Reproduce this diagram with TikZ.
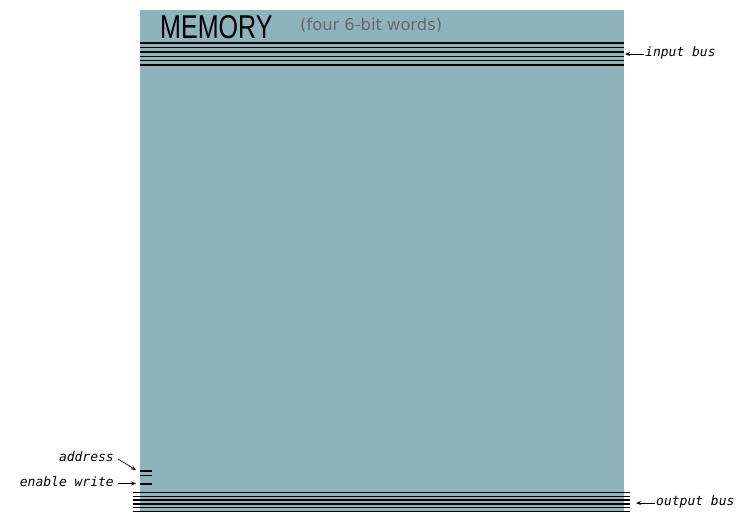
\documentclass[tikz,border=0pt]{standalone}
\usepackage{fontspec}
\setmainfont{DejaVu Sans}
\newfontfamily\labelfont{DejaVu Sans Mono}
\newfontfamily\titlefont{Liberation Sans}
\usetikzlibrary{arrows.meta}
\definecolor{memfill}{RGB}{143,179,189}
\definecolor{subgray}{RGB}{105,105,105}
\tikzset{
  wire/.style={line width=1.4pt, black},
  lbl/.style={font=\labelfont\itshape\fontsize{13}{15}\selectfont, inner sep=1pt},
  ptr/.style={-{Stealth[length=5pt,width=4pt]}, line width=0.7pt},
}
\begin{document}
\begin{tikzpicture}[x=1pt,y=-1pt]
\useasboundingbox (0,0) rectangle (754,512);
% memory block
\fill[memfill] (140,10) rectangle (624,512);
\node[anchor=west, inner sep=0pt, font=\titlefont\fontsize{33}{36}\selectfont, xscale=0.76] (title) at (160,27) {MEMORY};
\node[anchor=west, inner sep=0pt, font=\fontsize{16.3}{19}\selectfont, text=subgray] (sub) at (300,25) {(four 6-bit words)};
% input bus
\foreach \i in {0,...,5} {
  \draw[wire] (140,{43+4.4*\i}) -- (624,{43+4.4*\i});
}
\coordinate (inTip) at (625,54);
\node[lbl, anchor=west] (inLbl) at (644,53) {input bus};
\draw[ptr] (inLbl.west |- inTip) -- (inTip);
% output bus
\foreach \i in {0,...,5} {
  \draw[wire] (133,{492.5+3.8*\i}) -- (630,{492.5+3.8*\i});
}
\coordinate (outTip) at (636,503);
\node[lbl, anchor=west] (outLbl) at (655,502) {output bus};
\draw[ptr] (outLbl.west |- outTip) -- (outTip);
% address and enable write
\draw[wire] (140,471) -- (152,471);
\draw[wire] (140,475.5) -- (152,475.5);
\draw[wire] (140,484) -- (152,484);
\coordinate (addrTip) at (136,470);
\coordinate (enTip) at (136,483.5);
\node[lbl, anchor=east] (addrLbl) at (115,457) {address};
\node[lbl, anchor=east] (enLbl) at (115,482) {enable write};
\draw[ptr] (addrLbl.east) ++(3,2) coordinate (addrStart) -- (addrTip);
\draw[ptr] (enLbl.east |- enTip) ++(3,0) -- (enTip);
\end{tikzpicture}
\end{document}
